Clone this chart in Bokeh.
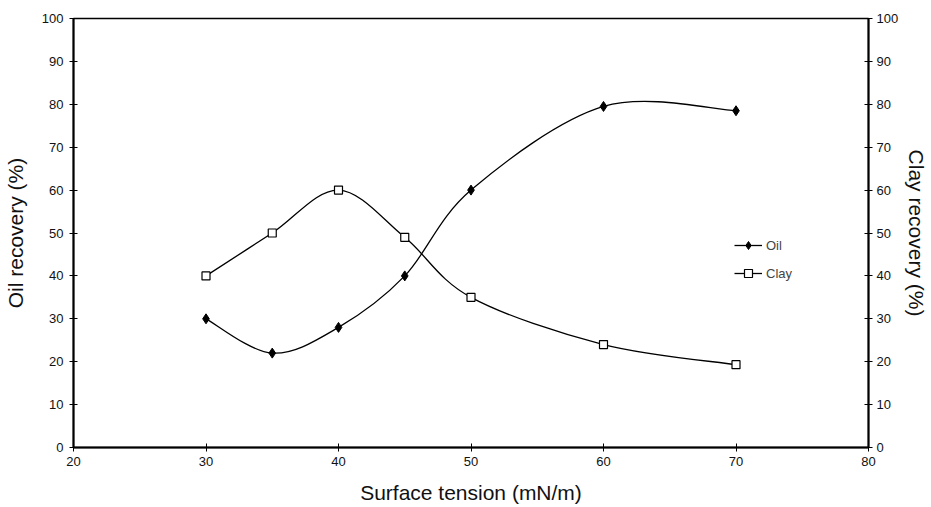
from bokeh.plotting import figure
from bokeh.models import Range1d, LinearAxis, Legend, LegendItem, ColumnDataSource, FixedTicker
from bokeh.embed import file_html
from bokeh.resources import INLINE

# data
surface_tension = [30, 35, 40, 45, 50, 60, 70]
oil_recovery = [30, 22, 28, 40, 60, 79.5, 78.5]
clay_recovery = [40, 50, 60, 49, 35, 24, 19.3]
x_ticks = [20, 30, 40, 50, 60, 70, 80]
y_ticks = [0, 10, 20, 30, 40, 50, 60, 70, 80, 90, 100]

FONT = "Liberation Sans"


def bezier_source(xs, ys):
    """Excel-style smoothed line: cubic Bezier segments between data points."""
    n = len(xs)
    d = dict(x0=[], y0=[], x1=[], y1=[], cx0=[], cy0=[], cx1=[], cy1=[])
    for i in range(n - 1):
        p0 = (xs[max(i - 1, 0)], ys[max(i - 1, 0)])
        p1 = (xs[i], ys[i])
        p2 = (xs[i + 1], ys[i + 1])
        p3 = (xs[min(i + 2, n - 1)], ys[min(i + 2, n - 1)])
        d["x0"].append(p1[0]); d["y0"].append(p1[1])
        d["x1"].append(p2[0]); d["y1"].append(p2[1])
        d["cx0"].append(p1[0] + (p2[0] - p0[0]) / 6)
        d["cy0"].append(p1[1] + (p2[1] - p0[1]) / 6)
        d["cx1"].append(p2[0] - (p3[0] - p1[0]) / 6)
        d["cy1"].append(p2[1] - (p3[1] - p1[1]) / 6)
    return ColumnDataSource(d)


p = figure(
    width=931, height=507,
    frame_width=795, frame_height=429,
    x_range=Range1d(20, 80), y_range=Range1d(0, 100),
    output_backend="svg", toolbar_location=None,
    min_border_left=72, min_border_top=18, min_border_right=64, min_border_bottom=60,
)
p.extra_y_ranges = {"right": Range1d(0, 100)}

p.grid.visible = False
p.outline_line_color = "black"
p.outline_line_width = 1.5
p.background_fill_color = "white"
p.border_fill_color = "white"

right_axis = LinearAxis(y_range_name="right")
p.add_layout(right_axis, "right")

for ax in [p.xaxis[0], p.yaxis[0], right_axis]:
    ax.axis_line_width = 2
    ax.axis_line_color = "black"
    ax.major_tick_in = 4
    ax.major_tick_out = 4
    ax.major_tick_line_width = 1
    ax.minor_tick_line_color = None
    ax.major_label_text_font = FONT
    ax.major_label_text_font_size = "13px"
    ax.major_label_text_color = "#111111"
    ax.axis_label_text_font = FONT
    ax.axis_label_text_font_size = "21px"
    ax.axis_label_text_font_style = "normal"
    ax.axis_label_text_color = "#111111"

p.xaxis[0].ticker = FixedTicker(ticks=x_ticks)
p.yaxis[0].ticker = FixedTicker(ticks=y_ticks)
right_axis.ticker = FixedTicker(ticks=y_ticks)

p.xaxis[0].axis_label = "Surface tension (mN/m)"
p.yaxis[0].axis_label = "Oil recovery (%)"
right_axis.axis_label = "Clay recovery (%)"
p.xaxis[0].major_label_standoff = 5
p.xaxis[0].axis_label_standoff = 12
p.yaxis[0].major_label_standoff = 6
p.yaxis[0].axis_label_standoff = 12
right_axis.major_label_standoff = 4
right_axis.axis_label_standoff = 4

oil_curve = p.bezier(x0="x0", y0="y0", x1="x1", y1="y1", cx0="cx0", cy0="cy0",
                     cx1="cx1", cy1="cy1", source=bezier_source(surface_tension, oil_recovery),
                     line_color="black", line_width=1.3)
clay_curve = p.bezier(x0="x0", y0="y0", x1="x1", y1="y1", cx0="cx0", cy0="cy0",
                      cx1="cx1", cy1="cy1", source=bezier_source(surface_tension, clay_recovery),
                      line_color="black", line_width=1.3, y_range_name="right")

oil_pts = p.scatter(surface_tension, oil_recovery, marker="diamond", size=10,
                    fill_color="black", line_color="black")
clay_pts = p.scatter(surface_tension, clay_recovery, marker="square", size=8,
                     fill_color="white", line_color="black", line_width=1.2,
                     y_range_name="right")

legend = Legend(
    items=[LegendItem(label="Oil", renderers=[oil_curve, oil_pts]),
           LegendItem(label="Clay", renderers=[clay_curve, clay_pts])],
    location=(661, 164),
    border_line_color=None, background_fill_alpha=0,
    padding=0, margin=0, spacing=8,
    glyph_width=28, glyph_height=20, label_height=20,
    label_text_font=FONT, label_text_font_size="13px", label_standoff=4,
)
p.add_layout(legend, "center")

open("out.html", "w").write(file_html(p, INLINE))
